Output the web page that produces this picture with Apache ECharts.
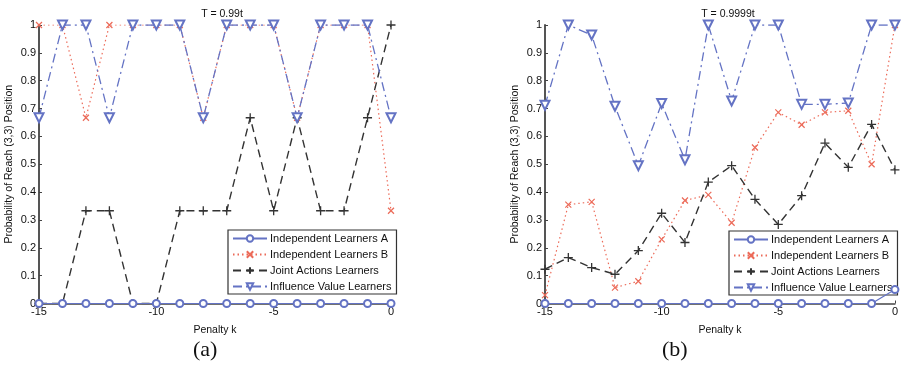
<!DOCTYPE html>
<html><head><meta charset="utf-8">
<script src="https://cdn.jsdelivr.net/npm/echarts@6/dist/echarts.min.js"></script>
<style>html,body{margin:0;padding:0;background:#fff}#c{width:901px;height:371px}</style>
</head><body><div id="c"></div>
<script>
const penalty = [-15,-14,-13,-12,-11,-10,-9,-8,-7,-6,-5,-4,-3,-2,-1,0];
const seriesNames = ['Independent Learners A','Independent Learners B','Joint Actions Learners','Influence Value Learners'];
const titles = ['T = 0.99t','T = 0.9999t'];
const captions = ['(a)','(b)'];
const yTicks = [0,0.1,0.2,0.3,0.4,0.5,0.6,0.7,0.8,0.9,1];

// (a) T = 0.99t
const a_indepA = [0,0,0,0,0,0,0,0,0,0,0,0,0,0,0,0];
const a_indepB = [1,1,0.667,1,1,1,1,0.667,1,1,1,0.667,1,1,1,0.333];
const a_joint  = [0,0,0.333,0.333,0,0,0.333,0.333,0.333,0.667,0.333,0.667,0.333,0.333,0.667,1];
const a_infl   = [0.667,1,1,0.667,1,1,1,0.667,1,1,1,0.667,1,1,1,0.667];

// (b) T = 0.9999t
const b_indepA = [0,0,0,0,0,0,0,0,0,0,0,0,0,0,0,0.05];
const b_indepB = [0.03,0.355,0.365,0.057,0.08,0.23,0.37,0.39,0.29,0.56,0.686,0.642,0.686,0.692,0.50,1];
const b_joint  = [0.123,0.165,0.129,0.105,0.19,0.324,0.219,0.436,0.495,0.374,0.284,0.387,0.576,0.489,0.643,0.48];
const b_infl   = [0.712,1,0.964,0.708,0.495,0.718,0.516,1,0.727,1,1,0.715,0.715,0.72,1,1];

const BLUE = '#6473c4', RED = '#ec6a58', BLACK = '#333333';
const FONT = 'Liberation Sans';
const zip = arr => arr.map((v,i)=>[penalty[i], v]);

function makeSeries(gi, dA, dB, dJ, dI){
  return [
    {name: seriesNames[0], type:'line', xAxisIndex:gi, yAxisIndex:gi, data: zip(dA),
     symbol:'emptyCircle', symbolSize:7, z:5,
     lineStyle:{color:BLUE, width:1.2, type:'solid'}, itemStyle:{color:BLUE, borderWidth:1}},
    {name: seriesNames[1], type:'line', xAxisIndex:gi, yAxisIndex:gi, data: zip(dB),
     symbol:'path://M0,0L10,10M10,0L0,10', symbolSize:6, z:3,
     lineStyle:{color:RED, width:1.2, type:[1.5,3]}, itemStyle:{color:RED, borderColor:RED, borderWidth:1.2}},
    {name: seriesNames[2], type:'line', xAxisIndex:gi, yAxisIndex:gi, data: zip(dJ),
     symbol:'path://M5,0L5,10M0,5L10,5', symbolSize:9, z:4,
     lineStyle:{color:BLACK, width:1.4, type:[8,5]}, itemStyle:{color:BLACK, borderColor:BLACK, borderWidth:1.3}},
    {name: seriesNames[3], type:'line', xAxisIndex:gi, yAxisIndex:gi, data: zip(dI),
     symbol:'emptyTriangle', symbolRotate:180, symbolSize:9, z:4,
     lineStyle:{color:BLUE, width:1.3, type:[9,4,2,4]}, itemStyle:{color:BLUE, borderWidth:1.2}}
  ];
}

const grids = [
  {left:39, width:352, top:25, height:278.5},
  {left:545, width:352.7, top:25, height:278.5}
];

const xAxes = grids.map((g,i)=>({
  type:'value', gridIndex:i, min:-15, max:0, interval:5,
  name:'Penalty k', nameLocation:'middle', nameGap:21,
  nameTextStyle:{fontFamily:FONT, fontSize:10.5, color:'#111'},
  axisLine:{show:true, onZero:false, lineStyle:{color:'#444', width:1.5}},
  axisTick:{show:true, inside:true, length:3, lineStyle:{color:'#444'}},
  axisLabel:{fontFamily:FONT, fontSize:11, color:'#111', margin:3},
  splitLine:{show:false}
}));

const yAxes = grids.map((g,i)=>({
  type:'value', gridIndex:i, min:0, max:1, interval:0.1,
  name:'Probability of Reach (3,3) Position', nameLocation:'middle', nameGap:24,
  nameTextStyle:{fontFamily:FONT, fontSize:10.5, color:'#111'},
  axisLine:{show:true, onZero:false, lineStyle:{color:'#555', width:2}},
  axisTick:{show:true, inside:true, length:3, lineStyle:{color:'#444'}},
  axisLabel:{fontFamily:FONT, fontSize:11, color:'#111', margin:3,
    formatter: v => { const t = yTicks.find(x=>Math.abs(x-v)<1e-6); return t===undefined? '' : String(+t.toFixed(1)); }},
  splitLine:{show:false}
}));

const legends = [
  {left:228, top:230},
  {left:729, top:231}
].map(p=>({
  orient:'vertical', left:p.left, top:p.top, data: seriesNames,
  itemWidth:34, itemHeight:8, itemGap:5, padding:[3,5,2,4],
  borderColor:'#333', borderWidth:1.2, backgroundColor:'#fff',
  textStyle:{fontFamily:FONT, fontSize:11, color:'#111', padding:[0,0,0,-2]},
  selectedMode:false
}));

const option = {
  animation:false,
  backgroundColor:'#fff',
  title: [
    {text:titles[0], left:217, top:4, textAlign:'center', textStyle:{fontFamily:FONT, fontSize:10.5, fontWeight:'normal', color:'#111'}},
    {text:titles[1], left:723, top:4, textAlign:'center', textStyle:{fontFamily:FONT, fontSize:10.5, fontWeight:'normal', color:'#111'}}
  ],
  grid: grids,
  xAxis: xAxes,
  yAxis: yAxes,
  legend: legends,
  series: [].concat(
    makeSeries(0, a_indepA, a_indepB, a_joint, a_infl),
    makeSeries(1, b_indepA, b_indepB, b_joint, b_infl)
  ),
  graphic: [
    {type:'text', left:193, top:339, style:{text:captions[0], font:'22px "Liberation Serif"', fill:'#111'}},
    {type:'text', left:662, top:339, style:{text:captions[1], font:'22px "Liberation Serif"', fill:'#111'}}
  ]
};
const chart = echarts.init(document.getElementById('c'), null, {renderer:'canvas'});
chart.setOption(option);
</script></body></html>
